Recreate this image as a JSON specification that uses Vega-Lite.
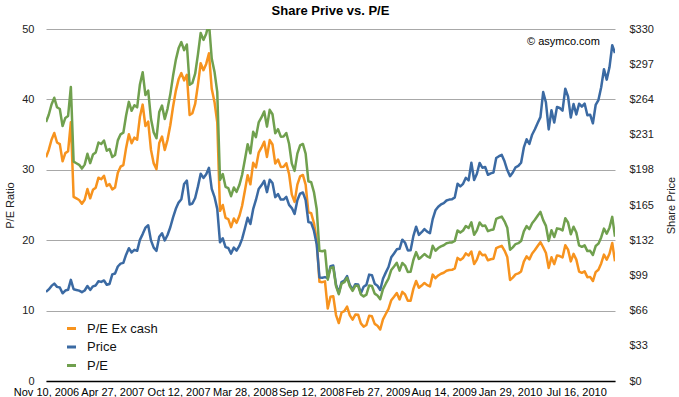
{
"$schema":"https://vega.github.io/schema/vega-lite/v6.json",
"width":569,"height":352,
"autosize":{"type":"none"},
"padding":{"left":46,"top":29,"right":64,"bottom":16},
"title":{"text":"Share Prive vs. P/E","fontSize":13,"fontWeight":"bold","anchor":"middle","frame":"group","offset":5,"color":"#000"},
"config":{"font":"Liberation Sans","view":{"stroke":null}},
"data":{"values":[
{"d":"2006-11-10","pe":36.78,"ex":31.78,"p":83.5},
{"d":"2006-11-17","pe":37.82,"ex":32.82,"p":85.85},
{"d":"2006-11-24","pe":39.27,"ex":34.27,"p":89.15},
{"d":"2006-12-01","pe":40.23,"ex":35.23,"p":91.32},
{"d":"2006-12-08","pe":38.88,"ex":33.88,"p":88.26},
{"d":"2006-12-15","pe":38.64,"ex":33.64,"p":87.72},
{"d":"2006-12-22","pe":36.21,"ex":31.21,"p":82.2},
{"d":"2006-12-29","pe":37.37,"ex":32.37,"p":84.84},
{"d":"2007-01-05","pe":37.65,"ex":32.65,"p":85.47},
{"d":"2007-01-12","pe":41.77,"ex":36.77,"p":94.82},
{"d":"2007-01-19","pe":31.16,"ex":26.16,"p":86.0},
{"d":"2007-01-26","pe":30.93,"ex":25.93,"p":85.38},
{"d":"2007-02-02","pe":30.71,"ex":25.71,"p":84.75},
{"d":"2007-02-09","pe":30.17,"ex":25.17,"p":83.27},
{"d":"2007-02-16","pe":30.74,"ex":25.74,"p":84.83},
{"d":"2007-02-23","pe":32.27,"ex":27.27,"p":89.07},
{"d":"2007-03-02","pe":30.95,"ex":25.95,"p":85.41},
{"d":"2007-03-09","pe":32.16,"ex":27.16,"p":88.75},
{"d":"2007-03-16","pe":32.46,"ex":27.46,"p":89.59},
{"d":"2007-03-23","pe":33.88,"ex":28.88,"p":93.52},
{"d":"2007-03-30","pe":33.66,"ex":28.66,"p":92.91},
{"d":"2007-04-06","pe":34.15,"ex":29.15,"p":94.25},
{"d":"2007-04-13","pe":32.70,"ex":27.70,"p":90.24},
{"d":"2007-04-20","pe":32.96,"ex":27.96,"p":90.97},
{"d":"2007-04-27","pe":31.82,"ex":27.22,"p":99.92},
{"d":"2007-05-04","pe":32.10,"ex":27.50,"p":100.81},
{"d":"2007-05-11","pe":34.18,"ex":29.58,"p":107.34},
{"d":"2007-05-18","pe":35.04,"ex":30.44,"p":110.02},
{"d":"2007-05-25","pe":35.27,"ex":30.67,"p":110.74},
{"d":"2007-06-01","pe":37.71,"ex":33.11,"p":118.4},
{"d":"2007-06-08","pe":39.65,"ex":35.05,"p":124.49},
{"d":"2007-06-15","pe":38.38,"ex":33.78,"p":120.5},
{"d":"2007-06-22","pe":39.17,"ex":34.57,"p":123.0},
{"d":"2007-06-29","pe":38.87,"ex":34.27,"p":122.04},
{"d":"2007-07-06","pe":42.13,"ex":37.53,"p":132.3},
{"d":"2007-07-13","pe":43.86,"ex":39.26,"p":137.73},
{"d":"2007-07-20","pe":40.61,"ex":36.21,"p":143.75},
{"d":"2007-07-27","pe":41.24,"ex":36.84,"p":146.0},
{"d":"2007-08-03","pe":37.25,"ex":32.85,"p":131.85},
{"d":"2007-08-10","pe":35.31,"ex":30.91,"p":125.0},
{"d":"2007-08-17","pe":34.48,"ex":30.08,"p":122.06},
{"d":"2007-08-24","pe":38.22,"ex":33.82,"p":135.3},
{"d":"2007-08-31","pe":39.12,"ex":34.72,"p":138.48},
{"d":"2007-09-07","pe":37.22,"ex":32.82,"p":131.77},
{"d":"2007-09-14","pe":38.66,"ex":34.26,"p":136.85},
{"d":"2007-09-21","pe":40.72,"ex":36.32,"p":144.15},
{"d":"2007-09-28","pe":43.35,"ex":38.95,"p":153.47},
{"d":"2007-10-05","pe":45.61,"ex":41.21,"p":161.45},
{"d":"2007-10-12","pe":47.25,"ex":42.85,"p":167.25},
{"d":"2007-10-19","pe":48.14,"ex":43.74,"p":170.42},
{"d":"2007-10-26","pe":47.00,"ex":42.70,"p":184.7},
{"d":"2007-11-02","pe":47.80,"ex":43.50,"p":187.87},
{"d":"2007-11-09","pe":42.08,"ex":37.78,"p":165.37},
{"d":"2007-11-16","pe":42.34,"ex":38.04,"p":166.39},
{"d":"2007-11-23","pe":43.65,"ex":39.35,"p":171.54},
{"d":"2007-11-30","pe":46.37,"ex":42.07,"p":182.22},
{"d":"2007-12-07","pe":49.44,"ex":45.14,"p":194.3},
{"d":"2007-12-14","pe":48.45,"ex":44.15,"p":190.39},
{"d":"2007-12-21","pe":49.34,"ex":45.04,"p":193.91},
{"d":"2007-12-28","pe":50.85,"ex":46.55,"p":199.83},
{"d":"2008-01-04","pe":45.81,"ex":41.51,"p":180.05},
{"d":"2008-01-11","pe":43.94,"ex":39.64,"p":172.69},
{"d":"2008-01-18","pe":41.06,"ex":36.76,"p":161.36},
{"d":"2008-01-25","pe":28.57,"ex":24.17,"p":130.01},
{"d":"2008-02-01","pe":29.40,"ex":25.00,"p":133.75},
{"d":"2008-02-08","pe":27.58,"ex":23.18,"p":125.48},
{"d":"2008-02-15","pe":27.39,"ex":22.99,"p":124.63},
{"d":"2008-02-22","pe":26.25,"ex":21.85,"p":119.46},
{"d":"2008-02-29","pe":27.48,"ex":23.08,"p":125.02},
{"d":"2008-03-07","pe":26.87,"ex":22.47,"p":122.25},
{"d":"2008-03-14","pe":27.83,"ex":23.43,"p":126.61},
{"d":"2008-03-21","pe":29.29,"ex":24.89,"p":133.27},
{"d":"2008-03-28","pe":31.43,"ex":27.03,"p":143.01},
{"d":"2008-04-04","pe":33.64,"ex":29.24,"p":153.08},
{"d":"2008-04-11","pe":32.34,"ex":27.94,"p":147.14},
{"d":"2008-04-18","pe":35.39,"ex":30.99,"p":161.04},
{"d":"2008-04-25","pe":34.64,"ex":30.34,"p":169.73},
{"d":"2008-05-02","pe":36.73,"ex":32.43,"p":180.0},
{"d":"2008-05-09","pe":37.44,"ex":33.14,"p":183.45},
{"d":"2008-05-16","pe":38.29,"ex":33.99,"p":187.62},
{"d":"2008-05-23","pe":36.13,"ex":31.83,"p":177.05},
{"d":"2008-05-30","pe":38.52,"ex":34.22,"p":188.75},
{"d":"2008-06-06","pe":37.89,"ex":33.59,"p":185.64},
{"d":"2008-06-13","pe":35.18,"ex":30.88,"p":172.37},
{"d":"2008-06-20","pe":35.77,"ex":31.47,"p":175.27},
{"d":"2008-06-27","pe":34.71,"ex":30.41,"p":170.09},
{"d":"2008-07-04","pe":34.72,"ex":30.42,"p":170.12},
{"d":"2008-07-11","pe":35.22,"ex":30.92,"p":172.58},
{"d":"2008-07-18","pe":33.70,"ex":29.40,"p":165.15},
{"d":"2008-07-25","pe":30.88,"ex":26.48,"p":162.12},
{"d":"2008-08-01","pe":29.84,"ex":25.44,"p":156.66},
{"d":"2008-08-08","pe":32.30,"ex":27.90,"p":169.55},
{"d":"2008-08-15","pe":33.47,"ex":29.07,"p":175.74},
{"d":"2008-08-22","pe":33.67,"ex":29.27,"p":176.79},
{"d":"2008-08-29","pe":32.29,"ex":27.89,"p":169.53},
{"d":"2008-09-05","pe":28.37,"ex":23.97,"p":148.94},
{"d":"2008-09-12","pe":28.24,"ex":23.84,"p":148.28},
{"d":"2008-09-19","pe":26.84,"ex":22.44,"p":140.91},
{"d":"2008-09-26","pe":24.43,"ex":20.03,"p":128.24},
{"d":"2008-10-03","pe":18.49,"ex":14.09,"p":97.07},
{"d":"2008-10-10","pe":18.44,"ex":14.04,"p":96.8},
{"d":"2008-10-17","pe":18.55,"ex":14.15,"p":97.4},
{"d":"2008-10-24","pe":14.39,"ex":10.29,"p":96.38},
{"d":"2008-10-31","pe":16.06,"ex":11.96,"p":107.59},
{"d":"2008-11-07","pe":16.15,"ex":12.05,"p":108.22},
{"d":"2008-11-14","pe":13.47,"ex":9.37,"p":90.24},
{"d":"2008-11-21","pe":12.33,"ex":8.23,"p":82.58},
{"d":"2008-11-28","pe":13.83,"ex":9.73,"p":92.67},
{"d":"2008-12-05","pe":14.03,"ex":9.93,"p":94.0},
{"d":"2008-12-12","pe":14.67,"ex":10.57,"p":98.27},
{"d":"2008-12-19","pe":13.43,"ex":9.33,"p":90.0},
{"d":"2008-12-26","pe":12.81,"ex":8.71,"p":85.81},
{"d":"2009-01-02","pe":13.54,"ex":9.44,"p":90.75},
{"d":"2009-01-09","pe":13.52,"ex":9.42,"p":90.58},
{"d":"2009-01-16","pe":12.29,"ex":8.19,"p":82.33},
{"d":"2009-01-23","pe":12.02,"ex":7.72,"p":88.36},
{"d":"2009-01-30","pe":12.26,"ex":7.96,"p":90.13},
{"d":"2009-02-06","pe":13.57,"ex":9.27,"p":99.72},
{"d":"2009-02-13","pe":13.49,"ex":9.19,"p":99.16},
{"d":"2009-02-20","pe":12.41,"ex":8.11,"p":91.2},
{"d":"2009-02-27","pe":12.15,"ex":7.85,"p":89.31},
{"d":"2009-03-06","pe":11.61,"ex":7.31,"p":85.3},
{"d":"2009-03-13","pe":13.05,"ex":8.75,"p":95.93},
{"d":"2009-03-20","pe":13.82,"ex":9.52,"p":101.59},
{"d":"2009-03-27","pe":14.54,"ex":10.24,"p":106.85},
{"d":"2009-04-03","pe":15.78,"ex":11.48,"p":115.99},
{"d":"2009-04-10","pe":16.27,"ex":11.97,"p":119.57},
{"d":"2009-04-17","pe":16.79,"ex":12.49,"p":123.42},
{"d":"2009-04-24","pe":15.68,"ex":11.58,"p":123.9},
{"d":"2009-05-01","pe":16.77,"ex":12.67,"p":132.51},
{"d":"2009-05-08","pe":16.40,"ex":12.30,"p":129.57},
{"d":"2009-05-15","pe":15.50,"ex":11.40,"p":122.42},
{"d":"2009-05-22","pe":15.51,"ex":11.41,"p":122.5},
{"d":"2009-05-29","pe":17.19,"ex":13.09,"p":135.81},
{"d":"2009-06-05","pe":18.31,"ex":14.21,"p":144.67},
{"d":"2009-06-12","pe":17.34,"ex":13.24,"p":136.97},
{"d":"2009-06-19","pe":17.66,"ex":13.56,"p":139.48},
{"d":"2009-06-26","pe":18.03,"ex":13.93,"p":142.44},
{"d":"2009-07-03","pe":17.72,"ex":13.62,"p":140.02},
{"d":"2009-07-10","pe":17.53,"ex":13.43,"p":138.52},
{"d":"2009-07-17","pe":19.21,"ex":15.11,"p":151.75},
{"d":"2009-07-24","pe":18.50,"ex":14.60,"p":159.99},
{"d":"2009-07-31","pe":18.89,"ex":14.99,"p":163.39},
{"d":"2009-08-07","pe":19.13,"ex":15.23,"p":165.51},
{"d":"2009-08-14","pe":19.28,"ex":15.38,"p":166.78},
{"d":"2009-08-21","pe":19.56,"ex":15.66,"p":169.22},
{"d":"2009-08-28","pe":19.66,"ex":15.76,"p":170.05},
{"d":"2009-09-04","pe":19.69,"ex":15.79,"p":170.31},
{"d":"2009-09-11","pe":19.90,"ex":16.00,"p":172.16},
{"d":"2009-09-18","pe":21.39,"ex":17.49,"p":185.02},
{"d":"2009-09-25","pe":21.08,"ex":17.18,"p":182.37},
{"d":"2009-10-02","pe":21.38,"ex":17.48,"p":184.9},
{"d":"2009-10-09","pe":22.02,"ex":18.12,"p":190.47},
{"d":"2009-10-16","pe":21.74,"ex":17.84,"p":188.05},
{"d":"2009-10-23","pe":22.53,"ex":18.38,"p":204.56},
{"d":"2009-10-30","pe":20.76,"ex":16.61,"p":188.5},
{"d":"2009-11-06","pe":21.40,"ex":17.25,"p":194.34},
{"d":"2009-11-13","pe":22.52,"ex":18.37,"p":204.45},
{"d":"2009-11-20","pe":22.02,"ex":17.87,"p":199.92},
{"d":"2009-11-27","pe":22.09,"ex":17.94,"p":200.59},
{"d":"2009-12-04","pe":21.29,"ex":17.14,"p":193.32},
{"d":"2009-12-11","pe":21.44,"ex":17.29,"p":194.67},
{"d":"2009-12-18","pe":21.52,"ex":17.37,"p":195.43},
{"d":"2009-12-25","pe":23.02,"ex":18.87,"p":209.04},
{"d":"2010-01-01","pe":23.21,"ex":19.06,"p":210.73},
{"d":"2010-01-08","pe":23.35,"ex":19.20,"p":211.98},
{"d":"2010-01-15","pe":22.68,"ex":18.53,"p":205.93},
{"d":"2010-01-22","pe":21.78,"ex":17.63,"p":197.75},
{"d":"2010-01-29","pe":18.65,"ex":14.35,"p":192.06},
{"d":"2010-02-05","pe":18.98,"ex":14.68,"p":195.46},
{"d":"2010-02-12","pe":19.45,"ex":15.15,"p":200.38},
{"d":"2010-02-19","pe":19.58,"ex":15.28,"p":201.67},
{"d":"2010-02-26","pe":19.87,"ex":15.57,"p":204.62},
{"d":"2010-03-05","pe":21.26,"ex":16.96,"p":218.95},
{"d":"2010-03-12","pe":22.00,"ex":17.70,"p":226.6},
{"d":"2010-03-19","pe":21.58,"ex":17.28,"p":222.25},
{"d":"2010-03-26","pe":22.42,"ex":18.12,"p":230.9},
{"d":"2010-04-02","pe":22.91,"ex":18.61,"p":235.97},
{"d":"2010-04-09","pe":23.47,"ex":19.17,"p":241.79},
{"d":"2010-04-16","pe":24.02,"ex":19.72,"p":247.4},
{"d":"2010-04-23","pe":22.85,"ex":19.00,"p":270.83},
{"d":"2010-04-30","pe":22.03,"ex":18.18,"p":261.09},
{"d":"2010-05-07","pe":19.90,"ex":16.05,"p":235.86},
{"d":"2010-05-14","pe":21.42,"ex":17.57,"p":253.82},
{"d":"2010-05-21","pe":20.45,"ex":16.60,"p":242.32},
{"d":"2010-05-28","pe":21.68,"ex":17.83,"p":256.88},
{"d":"2010-06-04","pe":21.60,"ex":17.75,"p":255.96},
{"d":"2010-06-11","pe":21.39,"ex":17.54,"p":253.51},
{"d":"2010-06-18","pe":23.13,"ex":19.28,"p":274.07},
{"d":"2010-06-25","pe":22.51,"ex":18.66,"p":266.7},
{"d":"2010-07-02","pe":20.84,"ex":16.99,"p":246.94},
{"d":"2010-07-09","pe":21.91,"ex":18.06,"p":259.62},
{"d":"2010-07-16","pe":21.09,"ex":17.24,"p":249.9},
{"d":"2010-07-23","pe":19.25,"ex":15.55,"p":259.94},
{"d":"2010-07-30","pe":19.06,"ex":15.36,"p":257.25},
{"d":"2010-08-06","pe":19.27,"ex":15.57,"p":260.09},
{"d":"2010-08-13","pe":18.45,"ex":14.75,"p":249.1},
{"d":"2010-08-20","pe":18.49,"ex":14.79,"p":249.64},
{"d":"2010-08-27","pe":17.90,"ex":14.20,"p":241.62},
{"d":"2010-09-03","pe":19.17,"ex":15.47,"p":258.77},
{"d":"2010-09-10","pe":19.51,"ex":15.81,"p":263.41},
{"d":"2010-09-17","pe":20.40,"ex":16.70,"p":275.37},
{"d":"2010-09-24","pe":21.65,"ex":17.95,"p":292.32},
{"d":"2010-10-01","pe":20.93,"ex":17.23,"p":282.52},
{"d":"2010-10-08","pe":21.78,"ex":18.08,"p":294.07},
{"d":"2010-10-15","pe":23.31,"ex":19.61,"p":314.74},
{"d":"2010-10-22","pe":20.50,"ex":17.00,"p":307.47}
]},
"layer":[
{
"mark":{"type":"line","strokeWidth":2.5,"strokeJoin":"round","clip":true},
"encoding":{
"x":{"field":"d","type":"temporal","scale":{"type":"utc","domain":[{"year":2006,"month":11,"date":10,"utc":true},{"year":2010,"month":10,"date":22,"utc":true}]},
"axis":{"values":[{"year":2006,"month":11,"date":10,"utc":true},{"year":2007,"month":4,"date":27,"utc":true},{"year":2007,"month":10,"date":12,"utc":true},{"year":2008,"month":3,"date":28,"utc":true},{"year":2008,"month":9,"date":12,"utc":true},{"year":2009,"month":2,"date":27,"utc":true},{"year":2009,"month":8,"date":14,"utc":true},{"year":2010,"month":1,"date":29,"utc":true},{"year":2010,"month":7,"date":16,"utc":true}],
"format":"%b %d, %Y","labelFontSize":11,"labelColor":"#000","labelPadding":5,"ticks":false,"tickSize":0,"grid":false,"domainColor":"#000","domainWidth":1.5,"labelFlush":false,"labelOverlap":false,"labelBound":false,"title":null,"zindex":1}},
"y":{"field":"ex","type":"quantitative","scale":{"domain":[0,50],"nice":false},
"axis":{"orient":"left","values":[0,10,20,30,40,50],"grid":true,"gridColor":"#a8a8a8","gridWidth":1,"domain":false,"ticks":false,"tickSize":0,"labelPadding":12,"labelFontSize":11,"labelColor":"#222","title":"P/E Ratio","titleFontSize":11,"titleFontWeight":"normal","titleColor":"#222","titleX":-36,"titleY":176,"titleAngle":-90,"titleAlign":"center","titleBaseline":"middle"}},
"color":{"datum":"P/E Ex cash","type":"nominal","scale":{"domain":["P/E Ex cash","Price","P/E"],"range":["#f7931e","#3b6aa3","#70a04e"]},
"legend":{"title":null,"orient":"none","legendX":19,"legendY":293,"direction":"vertical","symbolType":"stroke","symbolSize":81,"symbolStrokeWidth":3,"labelFontSize":13,"labelColor":"#111","labelOffset":9,"rowPadding":4.5,"padding":0}}
}
},
{
"mark":{"type":"line","strokeWidth":2.5,"strokeJoin":"round","clip":true},
"encoding":{
"x":{"field":"d","type":"temporal"},
"y":{"field":"p","type":"quantitative","scale":{"domain":[0,330],"nice":false},
"axis":{"orient":"right","values":[0,33,66,99,132,165,198,231,264,297,330],"format":"$.0f","grid":false,"domain":false,"ticks":false,"tickSize":0,"labelPadding":14,"labelFontSize":11,"labelColor":"#222","title":"Share Price","titleFontSize":11,"titleFontWeight":"normal","titleColor":"#222","titleX":56,"titleY":176,"titleAngle":-90,"titleAlign":"center","titleBaseline":"middle"}},
"color":{"datum":"Price","type":"nominal"}
}
},
{
"mark":{"type":"line","strokeWidth":2.5,"strokeJoin":"round","clip":true},
"encoding":{
"x":{"field":"d","type":"temporal"},
"y":{"field":"pe","type":"quantitative","scale":{"domain":[0,50],"nice":false},"axis":null},
"color":{"datum":"P/E","type":"nominal"}
}
},
{
"data":{"values":[{"t":"© asymco.com"}]},
"mark":{"type":"text","align":"left","baseline":"middle","fontSize":11,"color":"#000"},
"encoding":{
"x":{"datum":{"year":2010,"month":3,"date":13,"utc":true},"type":"temporal"},
"y":{"datum":48.1,"type":"quantitative","scale":{"domain":[0,50],"nice":false},"axis":null},
"text":{"field":"t","type":"nominal"}
}
}
],
"resolve":{"scale":{"y":"independent"}}
}
